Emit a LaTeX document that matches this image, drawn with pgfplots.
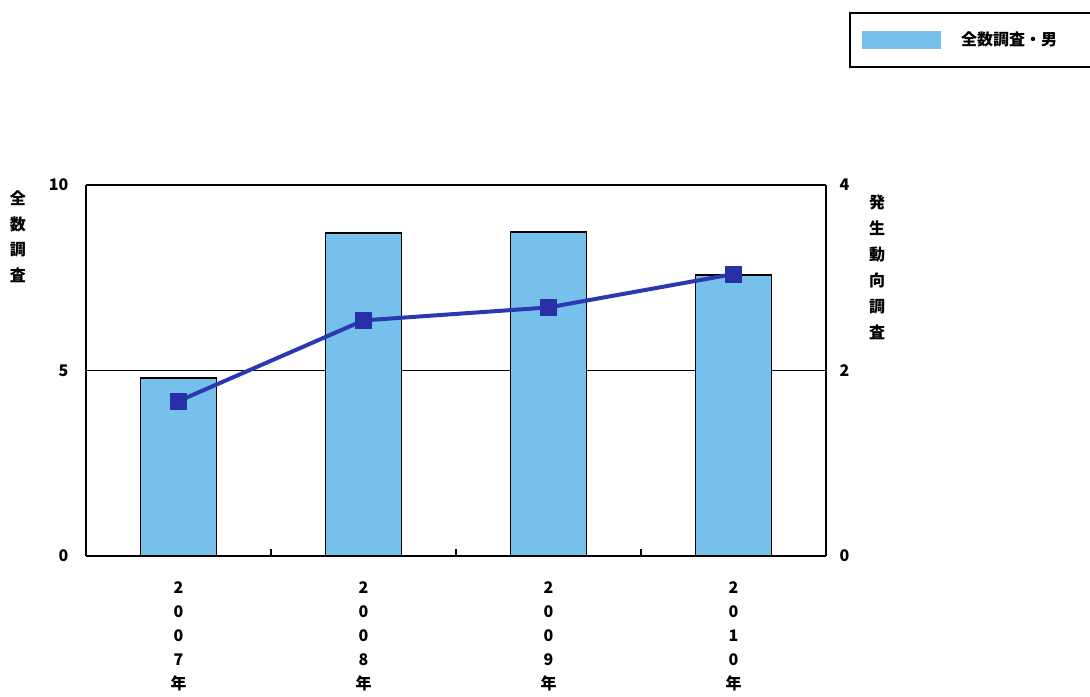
\documentclass[border=0pt]{standalone}
\usepackage{fontspec}
\setmainfont{Noto Sans CJK JP}
\usepackage{pgfplots}
\pgfplotsset{compat=1.18}
\definecolor{barblue}{RGB}{118,192,236}
\definecolor{linblue}{RGB}{44,56,176}
\definecolor{mkblue}{RGB}{40,48,168}
\begin{document}
\fontsize{8}{13}\selectfont\bfseries
\begin{tikzpicture}
\useasboundingbox (0,0) rectangle (545pt,348pt);
\begin{axis}[
  at={(43pt,70pt)}, anchor=south west,
  scale only axis, width=370pt, height=185.5pt,
  xmin=-0.5, xmax=3.5, ymin=0, ymax=10,
  axis y line*=left,
  axis x line*=bottom,
  xtick={0.5,1.5,2.5},
  xticklabels={},
  xtick align=inside,
  major tick length=3.5pt,
  xtick style={draw=black, line width=0.7pt},
  extra x ticks={0,1,2,3},
  extra x tick labels={2\\0\\0\\7\\年, 2\\0\\0\\8\\年, 2\\0\\0\\9\\年, 2\\0\\1\\0\\年},
  extra x tick style={major tick length=0pt, xticklabel style={align=center, font=\fontsize{8}{12}\selectfont\bfseries, yshift=-10pt}},
  ytick={0,5,10},
  ymajorgrids,
  grid style={black, line width=0.6pt},
  ytick style={draw=none},
  yticklabel style={xshift=-6pt, font=\fontsize{8}{13}\selectfont\bfseries},
  /pgf/number format/assume math mode=true,
  axis line style={line width=0.8pt, -},
  ylabel={全\\数\\調\\査},
  ylabel style={rotate=-90, align=center, at={(rel axis cs:-0.092,1.0)}, anchor=north, font=\fontsize{8}{12.8}\selectfont\bfseries},
  legend style={at={(rel axis cs:1.031,1.466)}, anchor=north west, draw=black, line width=0.8pt, inner xsep=6pt, inner ysep=7.5pt, font=\fontsize{8}{10}\selectfont\bfseries, column sep=8pt},
  legend cell align=left,
]
\addplot[ybar, bar width=0.41, fill=barblue, draw=black, line width=0.7pt,
  legend image code/.code={\fill[barblue] (0pt,-4.25pt) rectangle (39pt,4.25pt);}]
  coordinates {(0,4.80) (1,8.71) (2,8.73) (3,7.57)};
\addlegendentry{\makebox[62pt][l]{全数調査・男}}
\end{axis}
\begin{axis}[
  at={(43pt,70pt)}, anchor=south west,
  scale only axis, width=370pt, height=185.5pt,
  xmin=-0.5, xmax=3.5, ymin=0, ymax=4,
  axis y line*=right,
  axis x line=none,
  ytick={0,2,4},
  ytick style={draw=none},
  yticklabel style={xshift=4pt, font=\fontsize{8}{13}\selectfont\bfseries},
  /pgf/number format/assume math mode=true,
  axis line style={line width=0.8pt, -},
  ylabel={発\\生\\動\\向\\調\\査},
  ylabel style={rotate=-90, align=center, at={(rel axis cs:1.069,0.99)}, anchor=north, font=\fontsize{8}{13}\selectfont\bfseries},
]
\addplot[color=linblue, line width=2pt, mark=square*, mark size=4pt, mark options={fill=mkblue, draw=mkblue, line width=0pt}]
  coordinates {(0,1.67) (1,2.54) (2,2.68) (3,3.04)};
\end{axis}
\end{tikzpicture}
\end{document}
